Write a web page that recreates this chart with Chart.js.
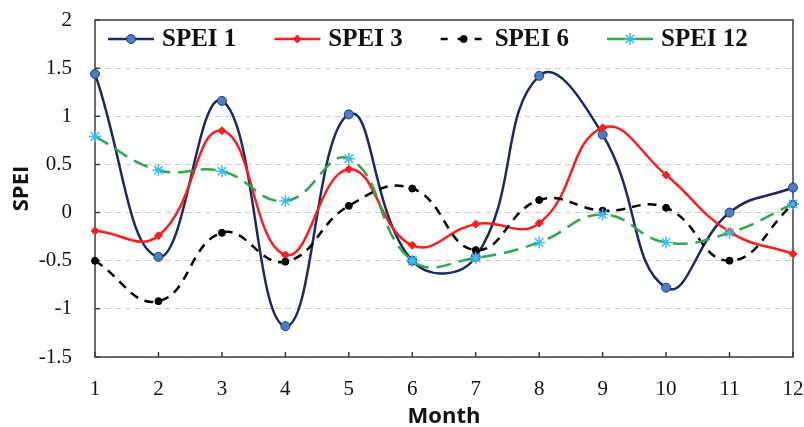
<!DOCTYPE html>
<html>
<head>
<meta charset="utf-8">
<script src="https://cdn.jsdelivr.net/npm/chart.js@4/dist/chart.umd.min.js"></script>
<style>
  html, body { margin: 0; padding: 0; background: #fff; }
  #wrap { width: 804px; height: 427px; }
</style>
</head>
<body>
<div id="wrap"><canvas id="c" width="804" height="427"></canvas></div>
<script>
// Monthly SPEI values at four time scales
const months = ['1', '2', '3', '4', '5', '6', '7', '8', '9', '10', '11', '12'];
const spei1  = [1.44, -0.46, 1.16, -1.18, 1.02, -0.50, -0.46, 1.42, 0.81, -0.78, 0.00, 0.26];
const spei3  = [-0.19, -0.24, 0.85, -0.44, 0.45, -0.34, -0.12, -0.11, 0.88, 0.39, -0.20, -0.43];
const spei6  = [-0.50, -0.92, -0.21, -0.51, 0.07, 0.25, -0.39, 0.13, 0.02, 0.05, -0.50, 0.09];
const spei12 = [0.79, 0.44, 0.43, 0.12, 0.56, -0.50, -0.47, -0.31, -0.02, -0.31, -0.21, 0.09];
const yTicks = [-1.5, -1, -0.5, 0, 0.5, 1, 1.5, 2];

const seriesNames = ['SPEI 1', 'SPEI 3', 'SPEI 6', 'SPEI 12'];

const SERIF = '"Liberation Serif", "Times New Roman", serif';
const SANS = '"Open Sans", "Liberation Sans", sans-serif';

// Plot frame and short inward tick marks
const framePlugin = {
  id: 'frame',
  beforeDatasetsDraw(chart) {
    const { ctx, chartArea: a, scales } = chart;
    ctx.save();
    ctx.strokeStyle = '#3d3d3d';
    ctx.lineWidth = 1.5;
    ctx.beginPath();
    yTicks.forEach(v => {
      const y = scales.y.getPixelForValue(v);
      ctx.moveTo(a.left, y); ctx.lineTo(a.left + 5, y);
    });
    months.forEach((m, i) => {
      const x = scales.x.getPixelForValue(i);
      ctx.moveTo(x, a.bottom); ctx.lineTo(x, a.bottom - 5);
    });
    ctx.stroke();
    ctx.strokeRect(a.left, a.top, a.right - a.left, a.bottom - a.top);
    ctx.restore();
  }
};

// Legend drawn inside the top of the plot area
const insideLegend = {
  id: 'insideLegend',
  afterDraw(chart) {
    const { ctx, chartArea: a } = chart;
    const y = a.top + 19;
    let x = a.left + 13;
    const sample = 46, gapText = 8, gapItem = 38;
    ctx.save();
    ctx.font = 'bold 25px ' + SERIF;
    ctx.textBaseline = 'middle';
    ctx.textAlign = 'left';
    chart.data.datasets.forEach(ds => {
      ctx.save();
      ctx.strokeStyle = ds.borderColor;
      ctx.lineWidth = ds.borderWidth;
      if (ds.legendDash) ctx.setLineDash(ds.legendDash);
      ctx.beginPath();
      ctx.moveTo(x, y); ctx.lineTo(x + sample, y);
      ctx.stroke();
      ctx.setLineDash([]);
      ctx.fillStyle = ds.pointBackgroundColor;
      ctx.strokeStyle = ds.pointBorderColor;
      ctx.lineWidth = ds.pointBorderWidth;
      Chart.helpers.drawPoint(ctx, {
        pointStyle: ds.pointStyle,
        radius: ds.pointRadius,
        rotation: 0,
        borderWidth: ds.pointBorderWidth
      }, x + sample / 2, y);
      ctx.restore();
      ctx.fillStyle = '#111';
      ctx.fillText(ds.label, x + sample + gapText, y + 1);
      x += sample + gapText + ctx.measureText(ds.label).width + gapItem;
    });
    ctx.restore();
  }
};

new Chart(document.getElementById('c'), {
  type: 'line',
  data: {
    labels: months,
    datasets: [
      {
        label: seriesNames[0], data: spei1, order: 4,
        borderColor: '#1b2866', borderWidth: 2.5,
        pointStyle: 'circle', pointRadius: 4.5, pointBorderWidth: 1,
        pointBackgroundColor: '#4a7fc6', pointBorderColor: '#1d3a7c'
      },
      {
        label: seriesNames[1], data: spei3, order: 3,
        borderColor: '#ff1c1c', borderWidth: 2.5,
        pointStyle: 'rectRot', pointRadius: 4, pointBorderWidth: 1,
        pointBackgroundColor: '#ff1c1c', pointBorderColor: '#ff1c1c'
      },
      {
        label: seriesNames[2], data: spei6, order: 2,
        borderColor: '#000000', borderWidth: 2.5, borderDash: [9, 7], legendDash: [7, 10],
        pointStyle: 'circle', pointRadius: 3.5, pointBorderWidth: 1,
        pointBackgroundColor: '#000000', pointBorderColor: '#000000'
      },
      {
        label: seriesNames[3], data: spei12, order: 1,
        borderColor: '#2ea84a', borderWidth: 2.5, borderDash: [15, 8],
        pointStyle: 'star', pointRadius: 6, pointBorderWidth: 1.5,
        pointBackgroundColor: '#3bbcf0', pointBorderColor: '#3bbcf0'
      }
    ]
  },
  options: {
    responsive: false,
    animation: false,
    devicePixelRatio: 1,
    layout: { padding: { left: 0, right: 11, top: 20, bottom: 0 } },
    elements: {
      line: { tension: 0.45, fill: false, capBezierPoints: false },
      point: { hoverRadius: 5 }
    },
    datasets: { line: { clip: false } },
    plugins: {
      legend: { display: false },
      title: { display: false },
      tooltip: { enabled: false }
    },
    scales: {
      x: {
        type: 'category',
        offset: false,
        grid: { display: false, drawTicks: false },
        border: { display: false },
        ticks: {
          color: '#111', padding: 20, maxRotation: 0, autoSkip: false,
          font: { family: SERIF, size: 21 }
        },
        title: {
          display: true, text: 'Month', color: '#111',
          font: { family: SANS, size: 22, weight: 'bold' },
          padding: { top: 0, bottom: -3 }
        },
        afterFit(s) {
          s.height = 70;
          s.paddingLeft = 0; s.paddingRight = 0;
        }
      },
      y: {
        min: -1.5, max: 2,
        afterBuildTicks(s) { s.ticks = yTicks.map(v => ({ value: v })); },
        grid: { color: '#cccccc', lineWidth: 1, drawTicks: false },
        border: { display: false, dash: [6, 4] },
        ticks: {
          color: '#111', padding: 23,
          font: { family: SERIF, size: 21 },
          callback: v => String(v)
        },
        title: {
          display: true, text: 'SPEI', color: '#111',
          font: { family: SANS, size: 22, weight: 'bold' },
          padding: { top: 9, bottom: 0 }
        },
        afterFit(s) {
          s.width = 95;
          s.paddingTop = 0; s.paddingBottom = 0;
        }
      }
    }
  },
  plugins: [framePlugin, insideLegend]
});
</script>
</body>
</html>
